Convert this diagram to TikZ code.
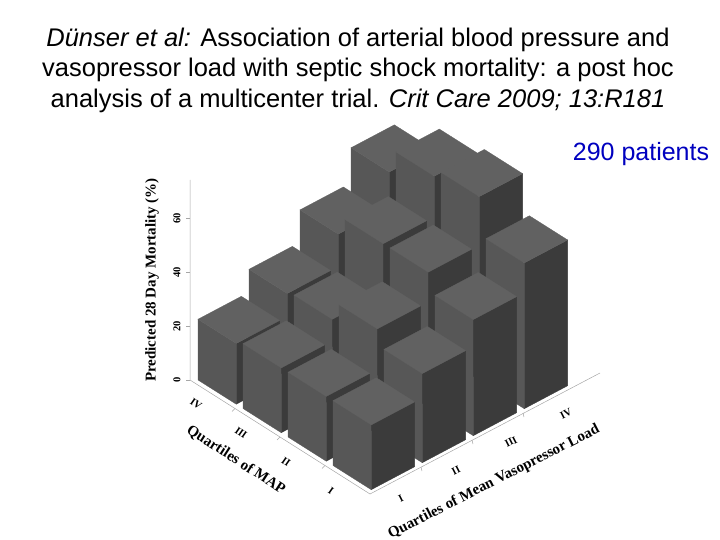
\documentclass[tikz,border=0pt]{standalone}
\usepackage{fontspec}
\setmainfont{Liberation Serif}
\setsansfont{Liberation Sans}
\begin{document}
\begin{tikzpicture}[x=1pt,y=-1pt,
  ttl/.style={font=\sffamily\fontsize{25.5}{30.5}\selectfont,align=center},
  axl/.style={font=\bfseries\fontsize{15}{15}\selectfont},
  tkl/.style={font=\bfseries\fontsize{10.5}{10.5}\selectfont},
  axline/.style={draw=black!35,line width=0.5pt},
  topf/.style={fill=black!62,draw=black!62,line width=0.3pt},
  leftf/.style={fill=black!66,draw=black!66,line width=0.3pt},
  rightf/.style={fill=black!77,draw=black!77,line width=0.3pt}]
\useasboundingbox (0,0) rectangle (720,540);
\node[ttl] (title) at (358,70) {\textit{Dünser et al:} Association of arterial blood pressure and\\vasopressor load with septic shock mortality: a post hoc\\analysis of a multicenter trial. \textit{Crit Care 2009; 13:R181}};
\node[font=\sffamily\fontsize{25}{28}\selectfont,text=blue!75!black] (pat) at (641,154) {290 patients};
% axes
\coordinate (o) at (190,380);
\coordinate (c) at (370,494);
\coordinate (e) at (600,373);
\draw[axline] (190,180) -- (o) -- (c) -- (e);
\foreach \k/\t in {0/0,1/20,2/40,3/60}{
  \draw[axline] (190,380-54*\k) -- ++(-4,0);
  \node[tkl,rotate=90] (t\k) at (177,380-54*\k) {\t};}
\foreach \k in {1,2,3}{
  \draw[axline] (190+45*\k,380+28.5*\k) -- ++(-3,3);
  \draw[axline] (370+51*\k,494-27*\k) -- ++(1,4);}
\node[axl,rotate=90] (ylab) at (152,280) {Predicted 28 Day Mortality (\%)};
\foreach \k/\t in {0/IV,1/III,2/II,3/I}
  \node[tkl,rotate=-35] (m\k) at (196+45*\k,404+29*\k) {\t};
\foreach \k/\t in {0/I,1/II,2/III,3/IV}
  \node[tkl,rotate=27] (v\k) at (401+55*\k,499-28.5*\k) {\t};
\node[axl,rotate=-33] (mlab) at (236,460) {Quartiles of MAP};
\node[axl,rotate=27] (vlab) at (494,482) {Quartiles of Mean Vasopressor Load};
% bars
\foreach \i/\j/\h in {0/3/56,0/2/43,1/3/65,0/1/31,1/2/50,2/3/68,0/0/22.5,1/1/32,2/2/50,3/3/54,1/0/24,2/1/39,3/2/43,2/0/24,3/1/33,3/0/24}{
  \pgfmathsetmacro\px{198+45*\i+51*\j}
  \pgfmathsetmacro\py{380+28.5*\i-27*\j}
  \pgfmathsetmacro\H{2.7*\h}
  \fill[leftf] (\px,\py) -- ++(38.25,24.2) -- ++(0,-\H) -- ++(-38.25,-24.2) -- cycle;
  \fill[rightf] (\px+38.25,\py+24.2) -- ++(43.35,-22.95) -- ++(0,-\H) -- ++(-43.35,22.95) -- cycle;
  \fill[topf] (\px,\py-\H) -- ++(38.25,24.2) -- ++(43.35,-22.95) -- ++(-38.25,-24.2) -- cycle;
}
\end{tikzpicture}
\end{document}
